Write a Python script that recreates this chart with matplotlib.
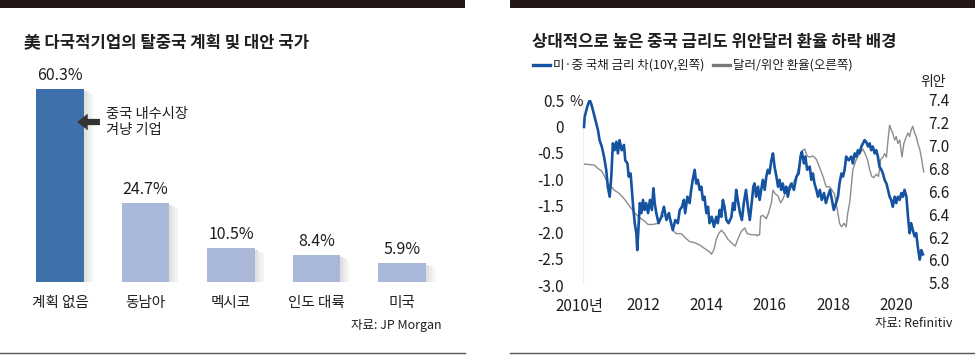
import numpy as np
import matplotlib
matplotlib.use("Agg")
import matplotlib.pyplot as plt
from matplotlib.lines import Line2D
from matplotlib.patches import Rectangle

plt.rcParams['font.family'] = ['Noto Sans CJK KR', 'DejaVu Sans']

# left chart data
categories = ["계획 없음", "동남아", "멕시코", "인도 대륙", "미국"]
shares = [60.3, 24.7, 10.5, 8.4, 5.9]
share_labels = ["60.3%", "24.7%", "10.5%", "8.4%", "5.9%"]

# right chart data: US-China 10Y yield gap (%)
spread_year = [2010.14, 2010.16, 2010.24, 2010.32, 2010.37, 2010.42, 2010.50, 2010.58, 2010.63, 2010.70,
               2010.77, 2010.84, 2010.89, 2010.95, 2011.00, 2011.05, 2011.10, 2011.16, 2011.21, 2011.26,
               2011.33, 2011.40, 2011.44, 2011.51, 2011.55, 2011.61, 2011.65, 2011.69, 2011.74, 2011.79,
               2011.82, 2011.86, 2011.90, 2011.95, 2012.00, 2012.05, 2012.10, 2012.16, 2012.22, 2012.28,
               2012.33, 2012.37, 2012.42, 2012.49, 2012.58, 2012.66, 2012.74, 2012.82, 2012.84, 2012.94,
               2013.02, 2013.10, 2013.16, 2013.23, 2013.29, 2013.33, 2013.40, 2013.47, 2013.52, 2013.57,
               2013.63, 2013.68, 2013.73, 2013.79, 2013.84, 2013.89, 2013.94, 2014.00, 2014.05, 2014.10,
               2014.17, 2014.24, 2014.31, 2014.36, 2014.42, 2014.47, 2014.52, 2014.57, 2014.63, 2014.70,
               2014.79, 2014.84, 2014.89, 2014.94, 2014.99, 2015.06, 2015.12, 2015.18, 2015.25, 2015.31,
               2015.37, 2015.44, 2015.48, 2015.52, 2015.57, 2015.63, 2015.68, 2015.73, 2015.78, 2015.84,
               2015.89, 2015.94, 2015.99, 2016.05, 2016.10, 2016.15, 2016.21, 2016.26, 2016.31, 2016.36,
               2016.41, 2016.47, 2016.52, 2016.57, 2016.63, 2016.68, 2016.76, 2016.84, 2016.91, 2016.97,
               2017.01, 2017.08, 2017.12, 2017.18, 2017.26, 2017.31, 2017.36, 2017.41, 2017.47, 2017.52,
               2017.58, 2017.64, 2017.71, 2017.77, 2017.83, 2017.90, 2017.96, 2018.02, 2018.09, 2018.15,
               2018.20, 2018.26, 2018.31, 2018.36, 2018.41, 2018.49, 2018.57, 2018.62, 2018.68, 2018.73,
               2018.78, 2018.83, 2018.89, 2018.94, 2018.99, 2019.04, 2019.10, 2019.15, 2019.20, 2019.25,
               2019.31, 2019.36, 2019.41, 2019.46, 2019.52, 2019.57, 2019.62, 2019.68, 2019.73, 2019.78,
               2019.83, 2019.88, 2019.94, 2019.99, 2020.04, 2020.10, 2020.15, 2020.20, 2020.25, 2020.31,
               2020.36, 2020.41, 2020.46, 2020.51, 2020.57, 2020.62, 2020.67, 2020.73, 2020.78, 2020.83]
spread = [-0.01, 0.18, 0.37, 0.50, 0.42, 0.31, 0.12, -0.07, -0.26, -0.38,
          -0.57, -0.82, -1.14, -1.33, -0.95, -0.32, -0.45, -0.29, -0.51, -0.26,
          -0.45, -0.35, -0.64, -0.70, -0.95, -0.89, -1.20, -1.52, -1.83, -2.02,
          -2.34, -1.90, -1.45, -1.64, -1.39, -1.58, -1.45, -1.64, -1.39, -1.58,
          -1.17, -1.45, -1.64, -1.83, -1.71, -1.52, -1.77, -1.64, -1.71, -1.96,
          -1.77, -1.83, -1.58, -1.52, -1.39, -1.64, -1.33, -1.45, -1.20, -1.01,
          -0.82, -1.08, -1.01, -1.20, -1.14, -1.39, -1.33, -1.64, -1.52, -1.83,
          -1.71, -1.90, -1.71, -1.83, -1.58, -1.71, -1.39, -1.52, -1.77, -1.83,
          -1.71, -1.45, -1.58, -1.20, -1.39, -1.64, -1.77, -1.45, -1.20, -1.52,
          -1.77, -1.39, -1.14, -1.08, -1.33, -1.14, -1.39, -1.20, -1.01, -1.20,
          -0.95, -0.82, -0.89, -0.64, -0.51, -0.76, -0.95, -1.14, -1.01, -1.20,
          -1.08, -1.26, -1.14, -1.33, -1.14, -1.08, -1.20, -0.95, -0.89, -0.57,
          -0.48, -0.70, -0.57, -0.82, -0.76, -1.01, -0.89, -1.08, -1.20, -1.33,
          -1.20, -1.39, -1.26, -1.45, -1.33, -1.20, -1.39, -1.58, -1.45, -1.33,
          -1.08, -0.89, -0.95, -0.82, -0.57, -0.64, -0.57, -0.70, -0.51, -0.57,
          -0.45, -0.51, -0.38, -0.32, -0.26, -0.29, -0.38, -0.32, -0.45, -0.38,
          -0.51, -0.45, -0.57, -0.76, -0.82, -0.89, -1.01, -1.08, -1.20, -1.33,
          -1.39, -1.52, -1.33, -1.45, -1.33, -1.39, -1.26, -1.33, -1.20, -1.33,
          -1.71, -2.02, -1.83, -1.96, -2.08, -2.02, -2.28, -2.52, -2.34, -2.42]

# right chart data: USD/CNY rate
fx_year = [2010.14, 2010.47, 2010.58, 2010.69, 2010.79, 2010.89, 2011.00, 2011.10, 2011.26, 2011.42,
           2011.58, 2011.74, 2011.89, 2012.05, 2012.16, 2012.31, 2012.47, 2012.58, 2012.68, 2012.82,
           2012.94, 2013.05, 2013.21, 2013.31, 2013.47, 2013.63, 2013.79, 2013.94, 2014.10, 2014.16,
           2014.24, 2014.31, 2014.39, 2014.47, 2014.57, 2014.68, 2014.79, 2014.91, 2014.99, 2015.10,
           2015.21, 2015.29, 2015.42, 2015.57, 2015.60, 2015.63, 2015.68, 2015.71, 2015.78, 2015.89,
           2015.96, 2016.05, 2016.10, 2016.17, 2016.26, 2016.34, 2016.41, 2016.52, 2016.63, 2016.73,
           2016.84, 2016.94, 2017.04, 2017.10, 2017.18, 2017.26, 2017.36, 2017.47, 2017.57, 2017.68,
           2017.78, 2017.89, 2017.96, 2018.04, 2018.13, 2018.20, 2018.26, 2018.34, 2018.41, 2018.46,
           2018.52, 2018.57, 2018.62, 2018.73, 2018.83, 2018.94, 2018.99, 2019.08, 2019.15, 2019.22,
           2019.28, 2019.36, 2019.43, 2019.50, 2019.57, 2019.62, 2019.68, 2019.73, 2019.78, 2019.83,
           2019.88, 2019.94, 2019.99, 2020.04, 2020.10, 2020.17, 2020.23, 2020.31, 2020.36, 2020.41,
           2020.46, 2020.51, 2020.57, 2020.62, 2020.67, 2020.73, 2020.78, 2020.83, 2020.86]
fx = [6.84, 6.83, 6.80, 6.78, 6.73, 6.67, 6.64, 6.61, 6.58, 6.53,
      6.47, 6.41, 6.37, 6.34, 6.31, 6.31, 6.32, 6.37, 6.39, 6.38,
      6.26, 6.23, 6.23, 6.20, 6.16, 6.15, 6.13, 6.10, 6.07, 6.05,
      6.09, 6.18, 6.23, 6.26, 6.23, 6.18, 6.15, 6.12, 6.18, 6.25,
      6.28, 6.23, 6.22, 6.22, 6.21, 6.22, 6.22, 6.38, 6.39, 6.36,
      6.41, 6.50, 6.61, 6.58, 6.56, 6.50, 6.53, 6.61, 6.61, 6.67,
      6.73, 6.85, 6.96, 6.97, 6.91, 6.90, 6.91, 6.88, 6.81, 6.73,
      6.64, 6.64, 6.61, 6.58, 6.44, 6.32, 6.29, 6.32, 6.29, 6.41,
      6.50, 6.64, 6.79, 6.88, 6.93, 6.97, 6.94, 6.88, 6.79, 6.73,
      6.72, 6.75, 6.73, 6.88, 6.90, 6.93, 6.90, 7.05, 7.18, 7.14,
      7.11, 7.05, 7.08, 7.02, 7.05, 6.90, 7.02, 7.08, 7.11, 7.08,
      7.14, 7.17, 7.11, 7.08, 7.02, 6.97, 6.90, 6.81, 6.77]

left_ticks = [0.5, 0, -0.5, -1.0, -1.5, -2.0, -2.5, -3.0]
left_tick_labels = ["0.5", "0", "-0.5", "-1.0", "-1.5", "-2.0", "-2.5", "-3.0"]
right_ticks = [7.4, 7.2, 7.0, 6.8, 6.6, 6.4, 6.2, 6.0, 5.8]
year_ticks = [2010, 2012, 2014, 2016, 2018, 2020]
year_labels = ["2010년", "2012", "2014", "2016", "2018", "2020"]

W, H = 975, 355
fig = plt.figure(figsize=(W / 100, H / 100), dpi=100)

def fx_(px):
    return px / W

def fy_(py):
    return 1 - py / H

text_c = "#1e1e1e"
dark_bar = "#3e70ab"
light_bar = "#a9b7d8"
blue = "#1552a0"
grey = "#8c8c8c"

# top bands and bottom rules
fig.add_artist(Rectangle((0, fy_(7.5)), fx_(465), 7.5 / H, color="#231815", lw=0))
fig.add_artist(Rectangle((fx_(510), fy_(7.5)), fx_(465), 7.5 / H, color="#231815", lw=0))
fig.add_artist(Line2D([0, fx_(465)], [fy_(353), fy_(353)], color="#555555", lw=1))
fig.add_artist(Line2D([fx_(510), 1], [fy_(353), fy_(353)], color="#555555", lw=1))

# ---------------- left: bar chart
fig.text(fx_(24), fy_(42), "美 다국적기업의 탈중국 계획 및 대안 국가", fontsize=12,
         fontweight="bold", color=text_c, va="center", ha="left")

ax1 = fig.add_axes([fx_(17.25), fy_(282), fx_(427.5), 222 / H])
x = np.arange(len(categories))
bar_w = 0.56
bar_colors = [dark_bar] + [light_bar] * (len(categories) - 1)
# soft shadow on the right side of the bars
for k, c in zip([3, 2, 1], ["#f4f4f4", "#ebebeb", "#e0e0e0"]):
    ax1.bar(x + 0.035 * k, np.array(shares) - 0.5 * k, width=bar_w, color=c, zorder=1)
ax1.bar(x, shares, width=bar_w, color=bar_colors, zorder=2)
for xi, v, lab in zip(x, shares, share_labels):
    ax1.annotate(lab, (xi, v), xytext=(0, 5), textcoords="offset pixels",
                 ha="center", va="bottom", fontsize=11.5, color=text_c)
ax1.set_xlim(-0.5, 4.5)
ax1.set_ylim(0, 222 / 3.2)
ax1.set_xticks(x)
ax1.set_xticklabels(categories, fontsize=10.5, color=text_c)
ax1.tick_params(axis="x", length=0, pad=10)
ax1.set_yticks([])
for s in ax1.spines.values():
    s.set_visible(False)
ax1.patch.set_alpha(0)

ax1.annotate("", xy=(0.17, 50), xytext=(0.50, 50),
             arrowprops=dict(arrowstyle="simple,head_length=0.75,head_width=1.2,tail_width=0.45",
                             color="#333333", lw=0))
ax1.text(0.54, 50, "중국 내수시장\n겨냥 기업", fontsize=10.3, color=text_c,
         va="center", ha="left", linespacing=1.15)

fig.text(fx_(442), fy_(325), "자료: JP Morgan", fontsize=9, color=text_c, ha="right", va="center")

# ---------------- right: dual axis line chart
fig.text(fx_(532), fy_(42), "상대적으로 높은 중국 금리도 위안달러 환율 하락 배경", fontsize=12,
         fontweight="bold", color=text_c, va="center", ha="left")

fig.add_artist(Line2D([fx_(533), fx_(550)], [fy_(65), fy_(65)], color=blue, lw=2.4))
fig.text(fx_(553), fy_(65), "미·중 국채 금리 차(10Y,왼쪽)", fontsize=9, color=text_c, va="center")
fig.add_artist(Line2D([fx_(713), fx_(730)], [fy_(65), fy_(65)], color="#777777", lw=2.4))
fig.text(fx_(733), fy_(65), "달러/위안 환율(오른쪽)", fontsize=9, color=text_c, va="center")

ax2 = fig.add_axes([fx_(578), fy_(285), fx_(348.7), 185 / H])
ax3 = ax2.twinx()

ax3.plot(fx_year, fx, color=grey, lw=1.0, zorder=1)
ax2.plot(spread_year, spread, color=blue, lw=1.9, zorder=3)
ax2.set_zorder(ax3.get_zorder() + 1)
ax2.patch.set_visible(False)

ax2.set_xlim(2009.95, 2020.95)
ax2.set_ylim(-3.0, 0.5)
ax3.set_ylim(5.78, 7.4)
ax2.axvline(2010.1, color="#eeeeee", lw=0.8, zorder=0)

ax2.set_yticks(left_ticks)
ax2.set_yticklabels(left_tick_labels, fontsize=11, color=text_c)
ax3.set_yticks(right_ticks)
ax3.set_yticklabels(["%.1f" % t for t in right_ticks], fontsize=11, color=text_c)
ax2.set_xticks(year_ticks)
ax2.set_xticklabels(year_labels, fontsize=11, color=text_c)
ax2.tick_params(axis="y", length=0, pad=10)
ax3.tick_params(axis="y", length=0, pad=1)
ax2.tick_params(axis="x", length=0, pad=9)
for a in (ax2, ax3):
    for s in a.spines.values():
        s.set_visible(False)

fig.text(fx_(569), fy_(102), "%", fontsize=10.5, color=text_c, va="center", ha="left")
fig.text(fx_(933), fy_(82), "위안", fontsize=10, color=text_c, va="center", ha="center")
fig.text(fx_(952), fy_(324), "자료: Refinitiv", fontsize=9, color=text_c, ha="right", va="center")

fig.savefig("out.png", dpi=100)
